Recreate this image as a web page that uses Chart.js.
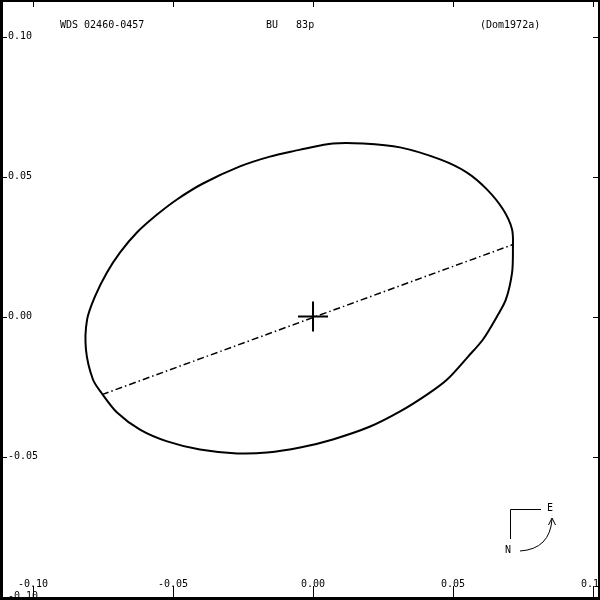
<!DOCTYPE html>
<html>
<head>
<meta charset="utf-8">
<script src="https://cdn.jsdelivr.net/npm/chart.js@4"></script>
<style>
  body { margin: 0; background: #fff; }
  canvas { display: block; }
</style>
</head>
<body>
<canvas id="orbitChart" width="600" height="600"></canvas>
<script>
// orbit points (arcsec)
const orbitX = [-0.0046, -0.0154, -0.0261, -0.0393, -0.0486, -0.0557, -0.0629, -0.0689, -0.0736, -0.0779,
                -0.0807, -0.0811, -0.0786, -0.0754, -0.0700, -0.0618, -0.0521, -0.0404, -0.0271, -0.0164,
                -0.0046, 0.0071, 0.0204, 0.0311, 0.0407, 0.0479, 0.0554, 0.0607, 0.0657, 0.0689,
                0.0711, 0.0714, 0.0711, 0.0679, 0.0621, 0.0550, 0.0454, 0.0311, 0.0179, 0.0071, -0.0046];
const orbitY = [0.0596, 0.0571, 0.0536, 0.0475, 0.0418, 0.0364, 0.0300, 0.0229, 0.0157, 0.0071,
                -0.0011, -0.0118, -0.0225, -0.0275, -0.0343, -0.0404, -0.0446, -0.0475, -0.0489, -0.0486,
                -0.0468, -0.0439, -0.0393, -0.0339, -0.0279, -0.0225, -0.0143, -0.0082, 0.0000, 0.0061,
                0.0157, 0.0239, 0.0311, 0.0382, 0.0454, 0.0514, 0.0561, 0.0604, 0.0618, 0.0618, 0.0596];

// line of apsides
const apsidesX = [-0.0754, 0.0714];
const apsidesY = [-0.0279, 0.0257];

// primary star
const starX = [0];
const starY = [0];

const tickValues = [-0.10, -0.05, 0.00, 0.05, 0.10];
const tickLabels = ['-0.10', '-0.05', '0.00', '0.05', '0.10'];

const titleLeft = 'WDS 02460-0457';
const titleMid = 'BU   83p';
const titleRight = '(Dom1972a)';

const toPoints = (xs, ys) => xs.map((x, i) => ({ x: x, y: ys[i] }));

const monoFont = '10px "DejaVu Sans Mono", "Liberation Mono", monospace';

const framePlugin = {
    id: 'frame',
    beforeDraw(chart) {
        const ctx = chart.ctx;
        ctx.save();
        ctx.fillStyle = '#fff';
        ctx.fillRect(0, 0, chart.width, chart.height);
        ctx.restore();
    },
    afterDraw(chart) {
        const ctx = chart.ctx;
        const xs = chart.scales.x;
        const ys = chart.scales.y;
        const W = chart.width;
        const H = chart.height;
        ctx.save();
        ctx.fillStyle = '#000';
        ctx.strokeStyle = '#000';
        ctx.lineWidth = 1;

        // tick marks on all four sides
        tickValues.forEach(v => {
            const px = Math.round(xs.getPixelForValue(v)) + 0.5;
            const py = Math.round(ys.getPixelForValue(v)) + 0.5;
            ctx.beginPath();
            ctx.moveTo(px, 0); ctx.lineTo(px, 7);
            ctx.moveTo(px, H); ctx.lineTo(px, H - 14);
            ctx.moveTo(0, py); ctx.lineTo(7, py);
            ctx.moveTo(W, py); ctx.lineTo(W - 7, py);
            ctx.stroke();
        });

        // tick labels
        ctx.font = monoFont;
        ctx.textBaseline = 'middle';
        ctx.textAlign = 'left';
        tickValues.forEach((v, i) => {
            ctx.fillText(tickLabels[i], 8, ys.getPixelForValue(v));
        });
        ctx.textAlign = 'center';
        tickValues.forEach((v, i) => {
            ctx.fillText(tickLabels[i], xs.getPixelForValue(v), 584);
        });

        // header
        ctx.textAlign = 'left';
        ctx.fillText(titleLeft, 60, 25);
        ctx.fillText(titleMid, 266, 25);
        ctx.fillText(titleRight, 480, 25);

        // compass
        ctx.lineWidth = 1;
        ctx.beginPath();
        ctx.moveTo(541, 509.5); ctx.lineTo(510.5, 509.5); ctx.lineTo(510.5, 539);
        ctx.stroke();
        ctx.beginPath();
        ctx.moveTo(520, 551);
        ctx.quadraticCurveTo(550, 549, 552, 519);
        ctx.stroke();
        ctx.beginPath();
        ctx.moveTo(548.5, 525); ctx.lineTo(552, 518); ctx.lineTo(555.5, 525);
        ctx.stroke();
        ctx.textAlign = 'center';
        ctx.fillText('E', 550, 508);
        ctx.fillText('N', 508, 550);

        // frame
        ctx.fillRect(0, 0, W, 2);
        ctx.fillRect(0, 0, 3, H);
        ctx.fillRect(W - 2, 0, 2, H);
        ctx.fillRect(0, H - 3, W, 3);
        ctx.restore();
    }
};

new Chart(document.getElementById('orbitChart').getContext('2d'), {
    type: 'scatter',
    data: {
        datasets: [
            {
                label: 'orbit',
                data: toPoints(orbitX, orbitY),
                showLine: true,
                borderColor: '#000',
                borderWidth: 2,
                pointRadius: 0,
                tension: 0.3
            },
            {
                label: 'apsides',
                data: toPoints(apsidesX, apsidesY),
                showLine: true,
                borderColor: '#000',
                borderWidth: 1.5,
                borderDash: [7, 3, 1.5, 3],
                pointRadius: 0
            },
            {
                label: 'primary',
                data: toPoints(starX, starY),
                pointStyle: 'cross',
                pointRadius: 15,
                borderColor: '#000',
                borderWidth: 2,
                backgroundColor: '#000'
            },
            {
                label: 'centre',
                data: toPoints(starX, starY),
                pointStyle: 'rect',
                pointRadius: 1,
                borderWidth: 0,
                backgroundColor: '#00c000'
            }
        ]
    },
    options: {
        responsive: false,
        animation: false,
        layout: { padding: 0, autoPadding: false },
        plugins: {
            legend: { display: false },
            tooltip: { enabled: false }
        },
        scales: {
            x: { type: 'linear', min: -0.1118, max: 0.1025, display: false },
            y: { type: 'linear', min: -0.10125, max: 0.11304, display: false }
        }
    },
    plugins: [framePlugin]
});
</script>
</body>
</html>
